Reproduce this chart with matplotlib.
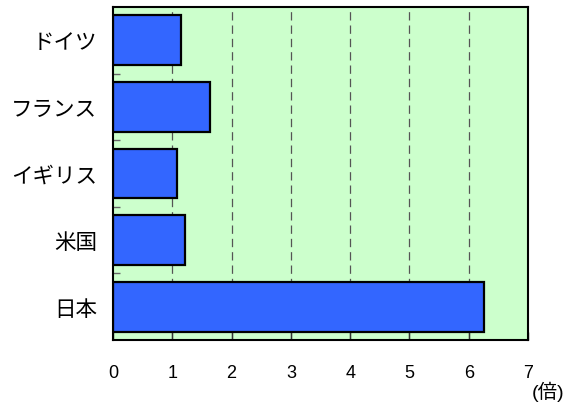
import matplotlib
matplotlib.use("Agg")
import matplotlib.pyplot as plt
import numpy as np

plt.rcParams['font.family'] = ['Liberation Sans', 'Noto Sans CJK JP', 'DejaVu Sans']
plt.rcParams['lines.scale_dashes'] = False

categories = ['ドイツ', 'フランス', 'イギリス', '米国', '日本']
values = [1.15, 1.64, 1.08, 1.22, 6.25]
x_ticks = [0, 1, 2, 3, 4, 5, 6, 7]
unit_label = '(倍)'

fig = plt.figure(figsize=(5.74, 4.06), dpi=100)
ax = fig.add_axes([113/574, 65/406, 415/574, 333/406])
ax.set_facecolor('#ccffcc')

ypos = np.arange(len(categories))
ax.barh(ypos, values, height=0.75, color='#3366ff', edgecolor='black', linewidth=1.6, zorder=3)

ax.set_xlim(0, 7)
ax.set_ylim(len(categories) - 0.5, -0.5)
ax.set_xticks(x_ticks)
ax.set_xticklabels([str(t) for t in x_ticks])
ax.set_yticks(ypos)
ax.set_yticklabels(categories)
ax.set_yticks(np.arange(len(categories) - 1) + 0.5, minor=True)

for x in x_ticks[1:-1]:
    ax.axvline(x, color='#555555', linewidth=0.9, dashes=(6, 3.6), zorder=1)

ax.tick_params(axis='x', direction='in', length=6, width=1, color='#333333',
               labelsize=13, pad=17)
ax.tick_params(axis='y', which='major', length=0, labelsize=15.5, pad=11.5)
ax.tick_params(axis='y', which='minor', direction='in', length=5, width=1, color='#666666')

for s in ax.spines.values():
    s.set_linewidth(1.5)
    s.set_color('black')
    s.set_zorder(4)

fig.text(548/574, 1 - 392/406, unit_label, ha='center', va='center', fontsize=14)

fig.savefig('out.png', dpi=100)
